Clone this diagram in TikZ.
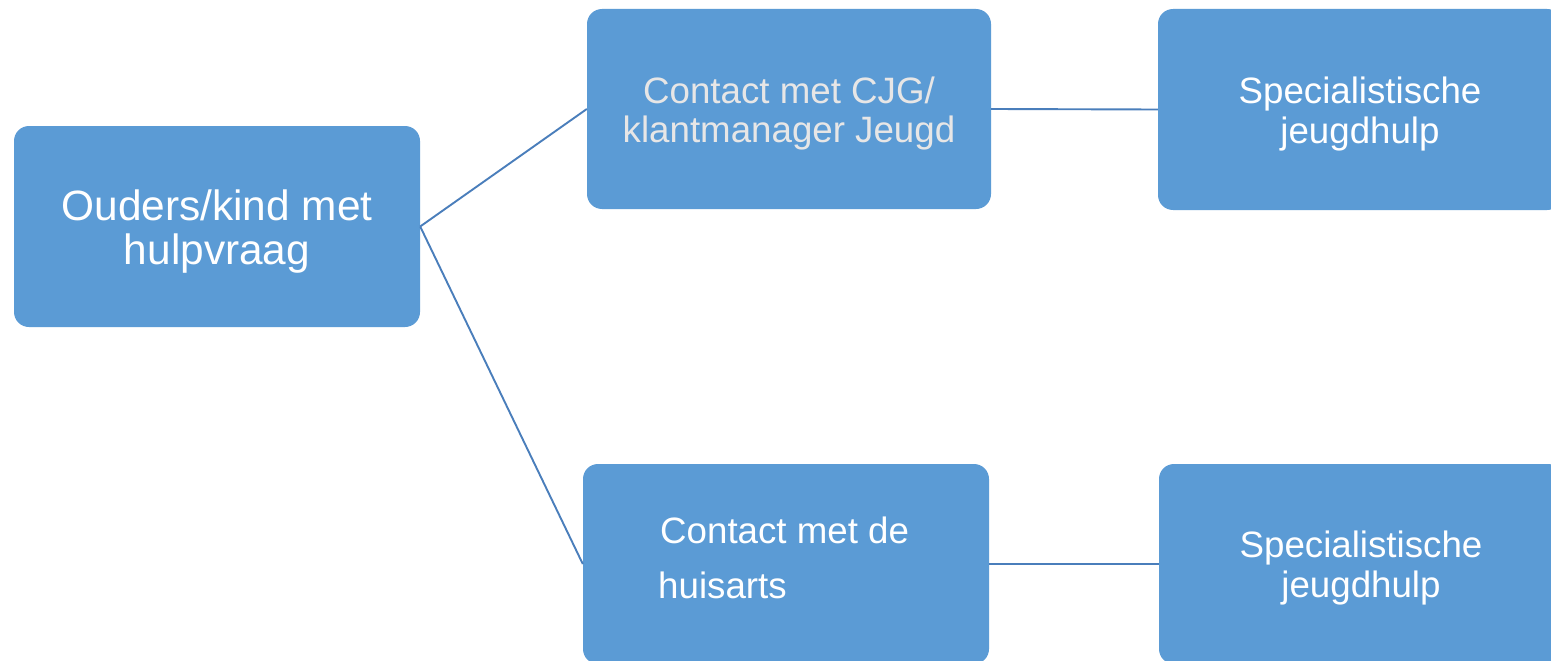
\documentclass[tikz,border=0pt]{standalone}
\usepackage{fontspec}
\setmainfont{Liberation Sans}
\definecolor{boxblue}{HTML}{5B9BD5}
\definecolor{lineblue}{HTML}{4A7EBB}
\definecolor{lightgraytext}{HTML}{E7E6E6}
\begin{document}
\begin{tikzpicture}[x=1pt,y=-1pt,
  box/.style={fill=boxblue, draw=none, rounded corners=15pt, inner sep=0pt},
  lbl/.style={inner sep=0pt, align=center, text=white, font=\fontsize{36.7}{39.3}\selectfont},
  conn/.style={draw=lineblue, line width=1.9pt}]
\useasboundingbox (0,0) rectangle (1551,661);
\clip (0,0) rectangle (1551,661);
\fill[white] (0,0) rectangle (1551,661);
\node[box, minimum width=406pt, minimum height=201pt] (A) at (217,226.5) {};
\node[box, minimum width=404pt, minimum height=200pt] (B) at (789,109) {};
\node[box, minimum width=404pt, minimum height=201pt] (C) at (1360,109.5) {};
\node[box, minimum width=406pt, minimum height=200pt] (D) at (786,564) {};
\node[box, minimum width=404pt, minimum height=200pt] (E) at (1361,564) {};
\node[lbl, font=\fontsize{42.4}{44.7}\selectfont] (Atext) at ([yshift=-5pt]A.center) {Ouders/kind met\\hulpvraag};
\node[lbl, text=lightgraytext] (Btext) at ([yshift=-4.5pt]B.center) {Contact met CJG/\\klantmanager Jeugd};
\node[lbl] (Ctext) at ([yshift=-4.5pt]C.center) {Specialistische\\jeugdhulp};
\node[lbl, align=left, anchor=base west, font=\fontsize{36.7}{55}\selectfont] (Dtext) at (658,598.3) {\hspace{2pt}Contact met de\\huisarts};
\node[lbl] (Etext) at ([yshift=-4pt]E.center) {Specialistische\\jeugdhulp};
\draw[conn] (A.east) -- (B.west);
\draw[conn] (A.east) -- (D.west);
\draw[conn] (B.east) -- (C.west);
\draw[conn] (D.east) -- (E.west);
\end{tikzpicture}
\end{document}
